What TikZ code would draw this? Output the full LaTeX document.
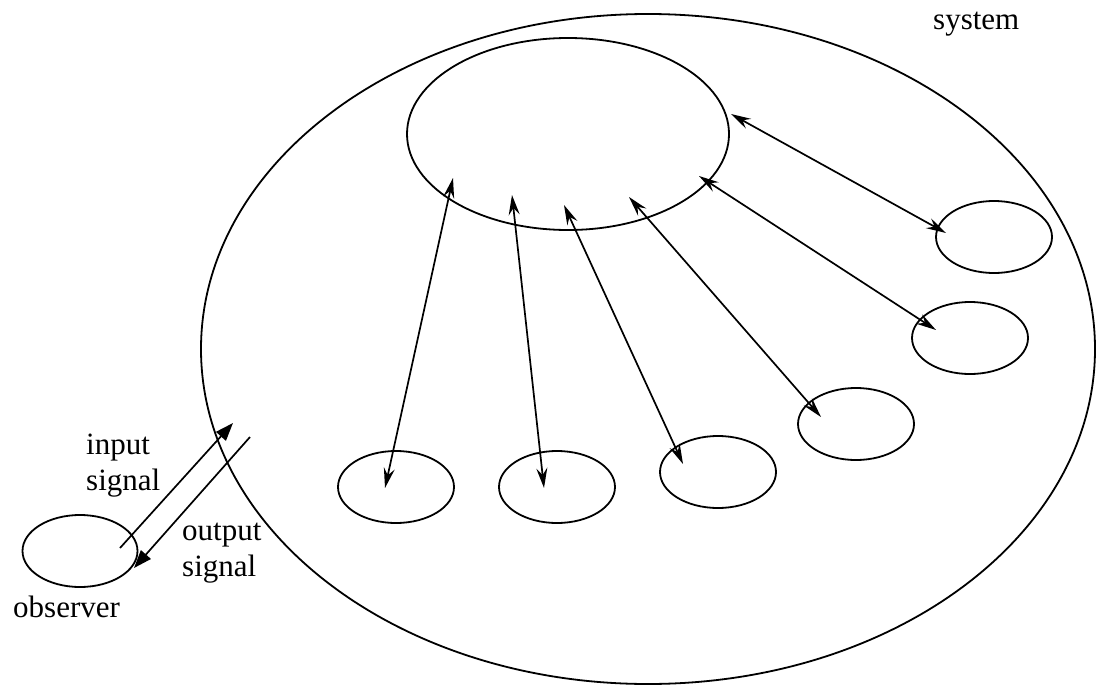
\documentclass[tikz,border=0pt]{standalone}
\usepackage{fontspec}
\setmainfont{Liberation Serif}
\usetikzlibrary{arrows.meta,shapes.geometric}
\begin{document}
\begin{tikzpicture}[x=1pt,y=-1pt,
  outline/.style={draw,ellipse,line width=1.8pt,inner sep=0pt},
  part/.style={outline,minimum width=116pt,minimum height=72pt},
  link/.style={line width=1.7pt,{Stealth[length=20pt,width=11pt,inset=7pt]}-{Stealth[length=20pt,width=11pt,inset=7pt]}},
  signal/.style={line width=1.7pt,-{Triangle[length=18pt,width=13pt]}},
  lbl/.style={inner sep=0pt,font=\fontsize{31}{36}\selectfont,align=left}]
\useasboundingbox (0,0) rectangle (1097,685);

% the system and its components
\node[outline,minimum width=894pt,minimum height=670pt] (sys) at (648,349) {};
\node[outline,minimum width=322pt,minimum height=192pt] (core) at (568,134) {};
\node[part] (p1) at (396,487) {};
\node[part] (p2) at (557,487) {};
\node[part] (p3) at (718,472) {};
\node[part] (p4) at (856,424) {};
\node[part] (p5) at (970,338) {};
\node[part] (p6) at (994,237) {};
\node[outline,minimum width=115pt,minimum height=72pt] (obs) at (80,551) {};

% end points of the links inside the ellipses
\coordinate (c1) at (453,178); \coordinate (q1) at (385,488);
\coordinate (c2) at (512,195); \coordinate (q2) at (544,488);
\coordinate (c3) at (564,205); \coordinate (q3) at (683,464);
\coordinate (c4) at (629,197); \coordinate (q4) at (821,417);
\coordinate (c5) at (699,176); \coordinate (q5) at (936,330);
\coordinate (c6) at (731,114); \coordinate (q6) at (946,233);

\draw[link] (c1) -- (q1);
\draw[link] (c2) -- (q2);
\draw[link] (c3) -- (q3);
\draw[link] (c4) -- (q4);
\draw[link] (c5) -- (q5);
\draw[link] (c6) -- (q6);

% signals between observer and system
\coordinate (inS) at (120,548); \coordinate (inE) at (233,423);
\coordinate (outS) at (250,437); \coordinate (outE) at (134,568);
\draw[signal] (inS) -- (inE);
\draw[signal] (outS) -- (outE);

% labels (base anchor of a two-line label sits on its last line)
\node[lbl,anchor=base west] (tsys) at (933,30) {system};
\node[lbl,anchor=base west] (tobs) at (13,617) {observer};
\node[lbl,anchor=base west] (tin) at (86,490) {input\\signal};
\node[lbl,anchor=base west] (tout) at (182,576) {output\\signal};
\end{tikzpicture}
\end{document}
